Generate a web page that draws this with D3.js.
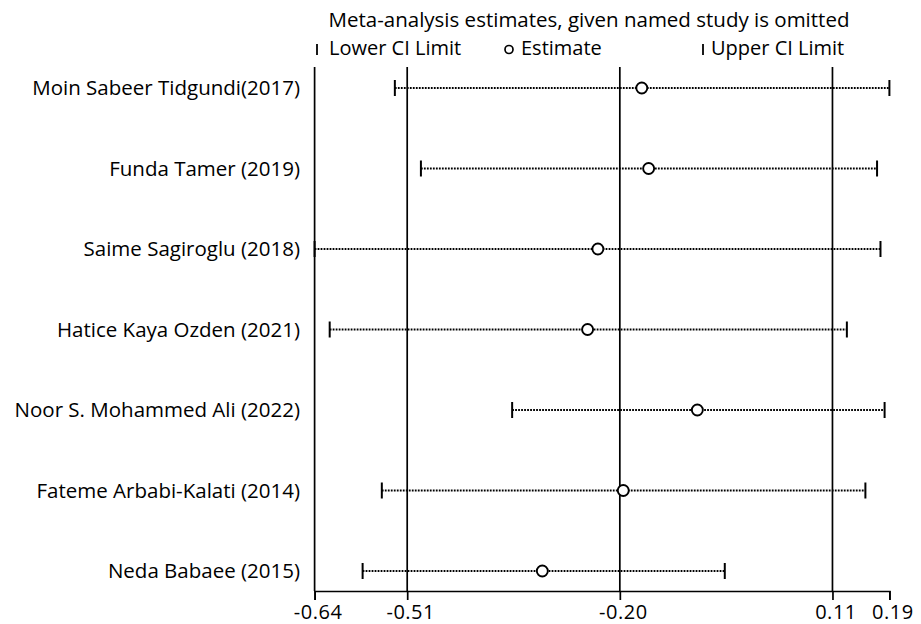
<!DOCTYPE html>
<html>
<head>
<meta charset="utf-8">
<script src="https://cdn.jsdelivr.net/npm/d3@7"></script>
<style>
  html, body { margin: 0; padding: 0; background: #fff; }
  svg { display: block; font-family: "Open Sans", "Noto Sans", sans-serif; }
</style>
</head>
<body>
<svg id="chart" width="921" height="624"></svg>
<script>
// ---- data ----
const studies = [
  "Moin Sabeer Tidgundi(2017)",
  "Funda Tamer (2019)",
  "Saime Sagiroglu (2018)",
  "Hatice Kaya Ozden (2021)",
  "Noor S. Mohammed Ali (2022)",
  "Fateme Arbabi-Kalati (2014)",
  "Neda Babaee (2015)"
];
const estimate = [-0.168, -0.158, -0.232, -0.247, -0.087, -0.195, -0.313];
const lowerCI  = [-0.528, -0.490, -0.645, -0.623, -0.357, -0.547, -0.575];
const upperCI  = [ 0.193,  0.175,  0.180,  0.131,  0.186,  0.158, -0.047];
const tickValues = [-0.645, -0.51, -0.20, 0.11, 0.193];
const tickLabels = ["-0.64", "-0.51", "-0.20", "0.11", "0.19"];
const refLines   = [-0.51, -0.20, 0.11];
const titleText  = "Meta-analysis estimates, given named study is omitted";
const legendItems = ["Lower CI Limit", "Estimate", "Upper CI Limit"];

// ---- layout ----
const svg = d3.select("#chart");
const plotLeft = 314.6, plotRight = 889.4, plotTop = 67, plotBottom = 591;

const x = d3.scaleLinear().domain([tickValues[0], tickValues[tickValues.length - 1]]).range([plotLeft, plotRight]);
const y = d3.scalePoint().domain(studies).range([88, 571]);

// reference vertical lines
svg.append("g").selectAll("line").data(refLines).join("line")
  .attr("x1", d => x(d)).attr("x2", d => x(d))
  .attr("y1", plotTop).attr("y2", plotBottom)
  .attr("stroke", "#000").attr("stroke-width", 1.7);

// left axis line
svg.append("line")
  .attr("x1", plotLeft).attr("x2", plotLeft).attr("y1", plotTop).attr("y2", plotBottom)
  .attr("stroke", "#000").attr("stroke-width", 1.7);

// bottom axis
const xAxis = d3.axisBottom(x)
  .tickValues(tickValues)
  .tickFormat((d, i) => tickLabels[i])
  .tickSizeOuter(0)
  .tickSize(9)
  .tickPadding(5);
const ax = svg.append("g").attr("transform", `translate(0,${plotBottom})`).call(xAxis);
ax.select(".domain").attr("stroke", "#000").attr("stroke-width", 1.7);
ax.selectAll(".tick line").attr("stroke", "#000").attr("stroke-width", 1.7);
ax.selectAll(".tick text").attr("fill", "#000").attr("dx", "3px").style("font-size", "20px")
  .style("letter-spacing", "0.5px")
  .style("font-family", "'Open Sans', 'Noto Sans', sans-serif");

// CI dotted lines
const rows = svg.append("g");
rows.selectAll("line.ci").data(studies).join("line").attr("class", "ci")
  .attr("x1", (d, i) => x(lowerCI[i])).attr("x2", (d, i) => x(upperCI[i]))
  .attr("y1", d => y(d)).attr("y2", d => y(d))
  .attr("stroke", "#000").attr("stroke-width", 2.2)
  .attr("stroke-dasharray", "1.8,1.2");

// caps
rows.selectAll("line.lo").data(studies).join("line").attr("class", "lo")
  .attr("x1", (d, i) => x(lowerCI[i])).attr("x2", (d, i) => x(lowerCI[i]))
  .attr("y1", d => y(d) - 8).attr("y2", d => y(d) + 8)
  .attr("stroke", "#000").attr("stroke-width", 2);
rows.selectAll("line.hi").data(studies).join("line").attr("class", "hi")
  .attr("x1", (d, i) => x(upperCI[i])).attr("x2", (d, i) => x(upperCI[i]))
  .attr("y1", d => y(d) - 8).attr("y2", d => y(d) + 8)
  .attr("stroke", "#000").attr("stroke-width", 2);

// estimates
rows.selectAll("circle").data(studies).join("circle")
  .attr("cx", (d, i) => x(estimate[i])).attr("cy", d => y(d))
  .attr("r", 5.5).attr("fill", "#fff").attr("stroke", "#000").attr("stroke-width", 1.9);

// study labels
svg.append("g").selectAll("text").data(studies).join("text")
  .attr("x", 300).attr("y", d => y(d)).attr("dy", "0.35em")
  .attr("text-anchor", "end").style("font-size", "20.5px").attr("fill", "#000")
  .text(d => d);

// title
svg.append("text").attr("x", 589).attr("y", 20).attr("dy", "0.35em").attr("text-anchor", "middle")
  .style("font-size", "20.5px").attr("fill", "#000").text(titleText);

// legend
const lg = svg.append("g").style("font-size", "20px");
const lgY = 48;
lg.append("line").attr("x1", 317).attr("x2", 317).attr("y1", 44).attr("y2", 55)
  .attr("stroke", "#000").attr("stroke-width", 1.8);
lg.append("text").attr("x", 329).attr("y", lgY).attr("dy", "0.35em").text(legendItems[0]);
lg.append("circle").attr("cx", 509).attr("cy", 49.5).attr("r", 4)
  .attr("fill", "none").attr("stroke", "#000").attr("stroke-width", 1.7);
lg.append("text").attr("x", 521).attr("y", lgY).attr("dy", "0.35em").text(legendItems[1]);
lg.append("line").attr("x1", 703).attr("x2", 703).attr("y1", 44).attr("y2", 55)
  .attr("stroke", "#000").attr("stroke-width", 1.8);
lg.append("text").attr("x", 711).attr("y", lgY).attr("dy", "0.35em").text(legendItems[2]);
</script>
</body>
</html>
